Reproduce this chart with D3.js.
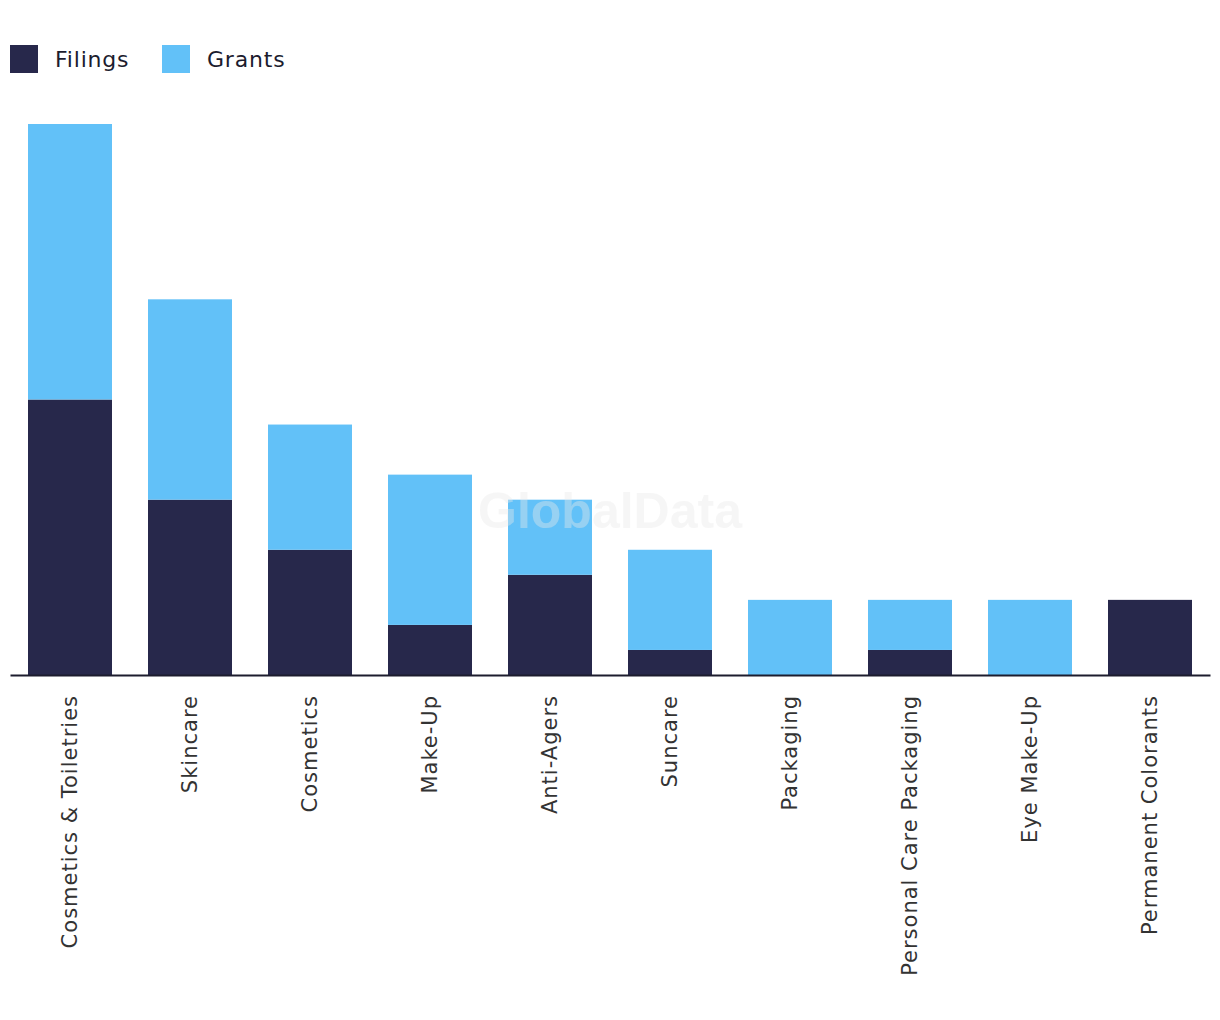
<!DOCTYPE html>
<html>
<head>
<meta charset="utf-8">
<script src="https://cdn.jsdelivr.net/npm/d3@7"></script>
<style>
  body { margin: 0; background: #fff; }
  text { font-family: "DejaVu Sans", sans-serif; }
</style>
</head>
<body>
<svg id="chart"></svg>
<script>
var categories = ["Cosmetics & Toiletries", "Skincare", "Cosmetics", "Make-Up", "Anti-Agers",
  "Suncare", "Packaging", "Personal Care Packaging", "Eye Make-Up", "Permanent Colorants"];
var filings = [11, 7, 5, 2, 4, 1, 0, 1, 0, 3];
var grants  = [11, 8, 5, 6, 3, 4, 3, 2, 3, 0];
var seriesNames = ["Filings", "Grants"];
var colors = ["#27284b", "#62c1f8"];

var width = 1220, height = 1020;
var svg = d3.select("#chart").attr("width", width).attr("height", height);

var data = categories.map(function(c, i) { return {cat: c, Filings: filings[i], Grants: grants[i]}; });
var stack = d3.stack().keys(seriesNames)(data);

var x = d3.scaleBand().domain(categories).range([10, 1210]).paddingInner(0.3).paddingOuter(0.15);
var y = d3.scaleLinear().domain([0, 22]).range([675, 124]);

svg.append("g").selectAll("g")
  .data(stack).enter().append("g")
  .attr("fill", function(d, i) { return colors[i]; })
  .selectAll("rect")
  .data(function(d) { return d; })
  .enter().append("rect")
  .attr("x", function(d) { return x(d.data.cat); })
  .attr("y", function(d) { return y(d[1]); })
  .attr("width", x.bandwidth())
  .attr("height", function(d) { return y(d[0]) - y(d[1]); });

// watermark
svg.append("text")
  .attr("x", 610).attr("y", 528)
  .attr("text-anchor", "middle")
  .style("font-family", "'Liberation Sans', Arial, sans-serif")
  .style("font-size", "50px").style("font-weight", "bold")
  .style("fill", "#e8e8e8").style("fill-opacity", 0.4)
  .text("GlobalData");

var axis = svg.append("g")
  .attr("transform", "translate(0,675)")
  .call(d3.axisBottom(x).tickSize(0).tickPadding(0));
axis.select(".domain").attr("stroke", "#1c1c2e").attr("stroke-width", 2);
axis.selectAll("text")
  .attr("transform", "rotate(-90)")
  .attr("x", -20).attr("y", 0).attr("dy", "0.35em")
  .style("text-anchor", "end")
  .style("font-size", "21px")
  .style("letter-spacing", "1px")
  .style("font-family", "'DejaVu Sans', sans-serif")
  .style("fill", "#333");

// legend
var leg = svg.append("g").selectAll("g")
  .data(seriesNames).enter().append("g")
  .attr("transform", function(d, i) { return "translate(" + [10, 162][i] + ",45)"; });
leg.append("rect").attr("width", 28).attr("height", 28)
  .attr("fill", function(d, i) { return colors[i]; });
leg.append("text").attr("x", 45).attr("y", 14).attr("dy", "0.35em")
  .style("font-size", "22px").style("letter-spacing", "0.8px").style("fill", "#1c1c2e")
  .text(function(d) { return d; });
</script>
</body>
</html>
